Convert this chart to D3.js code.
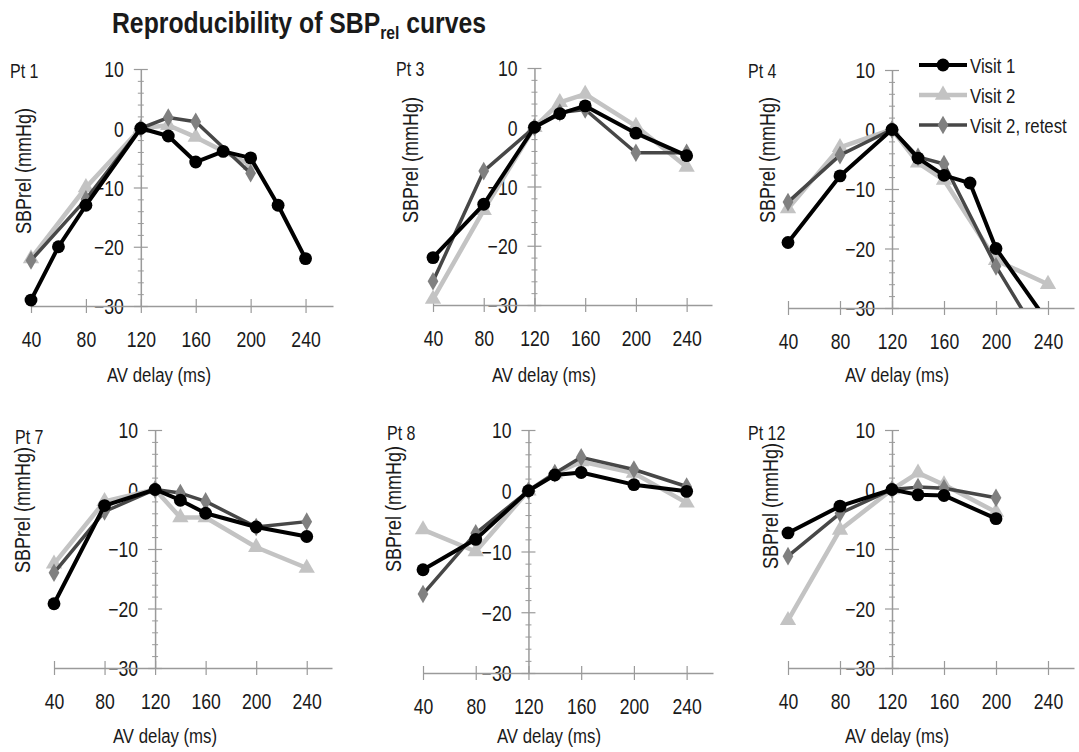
<!DOCTYPE html>
<html>
<head>
<meta charset="utf-8">
<script src="https://cdn.jsdelivr.net/npm/d3@7"></script>
<style>
  body { margin: 0; background: #fff; }
  text { font-family: "Liberation Sans", Arial, sans-serif; fill: #1a1a1a; }
</style>
</head>
<body>
<svg id="chart"></svg>
<script>
// tick labels
const xTicks = [40, 80, 120, 160, 200, 240];
const yTicks = [10, 0, -10, -20, -30];
const seriesNames = ["Visit 1", "Visit 2", "Visit 2, retest"];
const panelNames = ["Pt 1", "Pt 3", "Pt 4", "Pt 7", "Pt 8", "Pt 12"];

// [AV delay (ms), SBPrel (mmHg)]
const pt1Visit1 = [[40, -29], [60, -20], [80, -13], [120, 0], [140, -1.3], [160, -5.7], [180, -3.9], [200, -5], [220, -13], [240, -22]];
const pt1Visit2 = [[40, -22], [80, -10], [120, 0], [140, 0.5], [160, -1.5], [200, -6.2]];
const pt1Retest = [[40, -22.3], [80, -12], [120, 0], [140, 1.8], [160, 1.1], [200, -7.6]];

const pt3Visit1 = [[40, -22], [80, -13], [120, 0], [140, 2.3], [160, 3.6], [200, -1], [240, -4.8]];
const pt3Visit2 = [[40, -29], [80, -14], [120, 0], [140, 4.2], [160, 5.6], [200, 0.2], [240, -6.7]];
const pt3Retest = [[40, -26], [80, -7.4], [120, 0], [140, 2.5], [160, 3], [200, -4.3], [240, -4.3]];

const pt4Visit1 = [[40, -19], [80, -7.8], [120, 0], [140, -4.8], [160, -7.7], [180, -9], [200, -20], [240, -32.4]];
const pt4Visit2 = [[40, -13.3], [80, -3], [120, 0], [140, -5.6], [160, -8.5], [200, -22], [240, -26]];
const pt4Retest = [[40, -12.2], [80, -4.3], [120, 0], [140, -4.6], [160, -5.8], [200, -23], [240, -37.4]];

const pt7Visit1 = [[40, -19.2], [80, -2.7], [120, 0], [140, -1.8], [160, -4], [200, -6.3], [240, -7.9]];
const pt7Visit2 = [[40, -12.5], [80, -2], [120, 0], [140, -4.7], [160, -4.7], [200, -9.7], [240, -13.2]];
const pt7Retest = [[40, -14], [80, -3.7], [120, 0], [140, -0.6], [160, -2], [200, -6.3], [240, -5.4]];

const pt8Visit1 = [[40, -13], [80, -8], [120, 0], [140, 2.6], [160, 3], [200, 1], [240, -0.1]];
const pt8Visit2 = [[40, -6.4], [80, -10], [120, 0], [140, 2.8], [160, 4.8], [200, 2.9], [240, -2]];
const pt8Retest = [[40, -17], [80, -7], [120, 0], [140, 2.9], [160, 5.5], [200, 3.5], [240, 0.7]];

const pt12Visit1 = [[40, -7.3], [80, -2.8], [120, 0], [140, -0.9], [160, -1], [200, -4.9]];
const pt12Visit2 = [[40, -22], [80, -6.8], [120, 0], [140, 2.8], [160, 0.8], [200, -3.8]];
const pt12Retest = [[40, -11.2], [80, -4], [120, 0], [140, 0.4], [160, 0.2], [200, -1.4]];

const panelData = [
  [pt1Visit1, pt1Visit2, pt1Retest],
  [pt3Visit1, pt3Visit2, pt3Retest],
  [pt4Visit1, pt4Visit2, pt4Retest],
  [pt7Visit1, pt7Visit2, pt7Retest],
  [pt8Visit1, pt8Visit2, pt8Retest],
  [pt12Visit1, pt12Visit2, pt12Retest]
];

// layout: pixel range of x (40..260) and y (10..-30), label spots
const layout = [
  { x0: 31, x1: 333, top: 69, bottom: 306, ptX: 10, ptY: 78, ytX: 31, ytY: 171, xtX: 159, xtY: 382 },
  { x0: 433, x1: 712, top: 68, bottom: 305, ptX: 396, ptY: 76, ytX: 418, ytY: 160, xtX: 544, xtY: 382 },
  { x0: 788, x1: 1074, top: 70, bottom: 308, ptX: 748, ptY: 78, ytX: 775, ytY: 160, xtX: 897, xtY: 382 },
  { x0: 54, x1: 332, top: 430, bottom: 668, ptX: 15, ptY: 444, ytX: 30, ytY: 510, xtX: 165, xtY: 743 },
  { x0: 423, x1: 713, top: 430, bottom: 673, ptX: 387, ptY: 440, ytX: 401, ytY: 509, xtX: 549, xtY: 743 },
  { x0: 788, x1: 1074, top: 430, bottom: 668, ptX: 748, ptY: 440, ytX: 778, ytY: 506, xtX: 897, xtY: 743 }
];

const width = 1079, height = 752;
const SX = 0.8; // horizontal squeeze of all lettering
const axisColor = "#9a9a9a";

const styles = [
  { line: "#000000", fill: "#000000", lw: 4, shape: d3.symbolCircle, size: 130 },
  { line: "#c3c3c3", fill: "#c3c3c3", lw: 4.5, shape: d3.symbolTriangle, size: 115 },
  { line: "#474747", fill: "#808080", lw: 3.5, shape: d3.symbolDiamond, size: 100 }
];
// light first, black on top
const drawOrder = [1, 2, 0];

const svg = d3.select("#chart").attr("width", width).attr("height", height);

function label(parent, x, y, str, size, anchor, rotate) {
  return parent.append("text")
    .attr("transform", `translate(${x},${y})${rotate ? " rotate(-90)" : ""} scale(${SX},1)`)
    .attr("text-anchor", anchor || "start")
    .attr("font-size", size)
    .text(str);
}

// Title
const title = svg.append("text")
  .attr("transform", `translate(112,33) scale(0.825,1)`)
  .attr("font-size", 30)
  .attr("font-weight", "bold");
title.append("tspan").text("Reproducibility of SBP");
title.append("tspan").attr("font-size", 19).attr("dy", 6).text("rel");
title.append("tspan").attr("dy", -6).text(" curves");

const defs = svg.append("defs");

panelData.forEach((series, i) => {
  const L = layout[i];
  const x = d3.scaleLinear().domain([40, 260]).range([L.x0, L.x1]);
  const y = d3.scaleLinear().domain([-30, 10]).range([L.bottom, L.top]);
  const g = svg.append("g");

  // minor y ticks
  const minor = d3.range(-28, 10, 2).filter(v => v % 10 !== 0);
  g.append("g")
    .attr("transform", `translate(${x(120)},0)`)
    .call(d3.axisLeft(y).tickValues(minor).tickSize(3).tickSizeOuter(0).tickFormat(""))
    .call(a => a.select(".domain").remove())
    .call(a => a.selectAll(".tick line").attr("x1", 3).attr("stroke", axisColor).attr("stroke-width", 1));

  // y axis
  g.append("g")
    .attr("transform", `translate(${x(120)},0)`)
    .call(d3.axisLeft(y).tickValues(yTicks).tickSize(7).tickSizeOuter(0).tickFormat(d => d < 0 ? "\u2212" + Math.abs(d) : d))
    .call(a => a.select(".domain").attr("stroke", axisColor).attr("stroke-width", 1.5))
    .call(a => a.selectAll(".tick line").attr("x1", 7).attr("stroke", axisColor).attr("stroke-width", 1.2))
    .call(a => a.selectAll(".tick text")
      .attr("x", -17 / SX).attr("dy", "0.36em")
      .attr("transform", `scale(${SX},1)`)
      .attr("font-size", 22).attr("font-family", null).attr("fill", "#1a1a1a"));

  // x axis at y = -30
  g.append("g")
    .attr("transform", `translate(0,${y(-30)})`)
    .call(d3.axisBottom(x).tickValues(xTicks).tickSize(7).tickSizeOuter(0))
    .call(a => a.select(".domain").attr("stroke", axisColor).attr("stroke-width", 1.5))
    .call(a => a.selectAll(".tick line").attr("y1", -7).attr("stroke", axisColor).attr("stroke-width", 1.2))
    .call(a => a.selectAll(".tick text")
      .attr("y", 41).attr("dy", null)
      .attr("transform", `scale(${SX},1)`)
      .attr("font-size", 22).attr("font-family", null).attr("fill", "#1a1a1a"));

  // labels
  label(g, L.ptX, L.ptY, panelNames[i], 20, "start");
  label(g, L.ytX, L.ytY, "SBPrel (mmHg)", 22.5, "middle", true);
  label(g, L.xtX, L.xtY, "AV delay (ms)", 21, "middle");

  // clips: lines stop at the x axis, markers a little below it
  defs.append("clipPath").attr("id", "lc" + i)
    .append("rect").attr("x", L.x0 - 20).attr("y", L.top - 30)
    .attr("width", L.x1 - L.x0 + 40).attr("height", y(-30) - L.top + 30);
  defs.append("clipPath").attr("id", "mc" + i)
    .append("rect").attr("x", L.x0 - 20).attr("y", L.top - 30)
    .attr("width", L.x1 - L.x0 + 40).attr("height", y(-30) - L.top + 37);

  const line = d3.line().x(d => x(d[0])).y(d => y(d[1]));

  drawOrder.forEach(k => {
    const s = styles[k];
    g.append("path")
      .datum(series[k])
      .attr("clip-path", `url(#lc${i})`)
      .attr("fill", "none")
      .attr("stroke", s.line)
      .attr("stroke-width", s.lw)
      .attr("stroke-linejoin", "round")
      .attr("d", line);
    g.append("g").attr("clip-path", `url(#mc${i})`)
      .selectAll("path")
      .data(series[k])
      .join("path")
      .attr("transform", d => `translate(${x(d[0])},${y(d[1])})`)
      .attr("d", d3.symbol().type(s.shape).size(s.size))
      .attr("fill", s.fill);
  });
});

// Legend
const legend = svg.append("g");
const legY = d3.scalePoint().domain(seriesNames).range([65, 125]);
seriesNames.forEach((name, k) => {
  const s = styles[k];
  const yy = legY(name);
  legend.append("line")
    .attr("x1", 919).attr("x2", 967).attr("y1", yy).attr("y2", yy)
    .attr("stroke", s.line).attr("stroke-width", s.lw);
  legend.append("path")
    .attr("transform", `translate(943,${yy})`)
    .attr("d", d3.symbol().type(s.shape).size(s.size))
    .attr("fill", s.fill);
  label(legend, 970, yy + 7.5, name, 21, "start");
});
</script>
</body>
</html>
